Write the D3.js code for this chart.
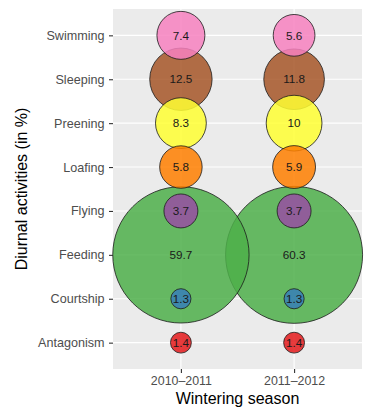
<!DOCTYPE html>
<html>
<head>
<meta charset="utf-8">
<script src="https://cdn.jsdelivr.net/npm/d3@7"></script>
<style>
  html, body { margin: 0; padding: 0; background: #ffffff; }
  svg { display: block; font-family: "Liberation Sans", Arial, sans-serif; }
</style>
</head>
<body>
<svg id="chart" width="377" height="412"></svg>
<script>
// ---- data ----
const categories = ["Antagonism", "Courtship", "Feeding", "Flying", "Loafing", "Preening", "Sleeping", "Swimming"];
const seasons = ["2010–2011", "2011–2012"];
const values2010 = [1.4, 1.3, 59.7, 3.7, 5.8, 8.3, 12.5, 7.4];
const values2011 = [1.4, 1.3, 60.3, 3.7, 5.9, 10, 11.8, 5.6];
const colors = ["#E41A1C", "#377EB8", "#4DAF4A", "#984EA3", "#FF7F00", "#FFFF33", "#A65628", "#F781BF"];
const xTitle = "Wintering season";
const yTitle = "Diurnal activities (in %)";

// ---- layout ----
const panel = { left: 113, right: 362, top: 9, bottom: 369 };
const svg = d3.select("#chart");

const x = d3.scalePoint().domain(seasons).range([panel.left, panel.right]).padding(0.6);
const y = d3.scalePoint().domain(categories).range([panel.bottom, panel.top]).padding(0.6);
const r = d3.scaleSqrt().domain([0, 60.3]).range([0, 68.5]);
const color = d3.scaleOrdinal().domain(categories).range(colors);

const seriesValues = [values2010, values2011];
const points = [];
seasons.forEach((s, si) => {
  categories.forEach((c, ci) => {
    points.push({ season: s, cat: c, value: seriesValues[si][ci] });
  });
});

// panel background
svg.append("rect")
  .attr("x", panel.left).attr("y", panel.top)
  .attr("width", panel.right - panel.left).attr("height", panel.bottom - panel.top)
  .attr("fill", "#EBEBEB");

// gridlines
svg.append("g").selectAll("line").data(categories).join("line")
  .attr("x1", panel.left).attr("x2", panel.right)
  .attr("y1", d => y(d)).attr("y2", d => y(d))
  .attr("stroke", "#ffffff").attr("stroke-width", 1.1);
svg.append("g").selectAll("line").data(seasons).join("line")
  .attr("y1", panel.top).attr("y2", panel.bottom)
  .attr("x1", d => x(d)).attr("x2", d => x(d))
  .attr("stroke", "#ffffff").attr("stroke-width", 1.1);

// bubbles (largest first)
const sorted = points.slice().sort((a, b) => b.value - a.value);

const g = svg.append("g");
g.selectAll("circle").data(sorted).join("circle")
  .attr("cx", d => x(d.season))
  .attr("cy", d => y(d.cat))
  .attr("r", d => r(d.value))
  .attr("fill", d => color(d.cat))
  .attr("fill-opacity", 0.85)
  .attr("stroke", "#1a1a1a")
  .attr("stroke-width", 0.8);

g.selectAll("text").data(points).join("text")
  .attr("x", d => x(d.season))
  .attr("y", d => y(d.cat))
  .attr("dy", "0.36em")
  .attr("text-anchor", "middle")
  .attr("font-size", 11.7)
  .attr("fill", "#1a1a1a")
  .text(d => String(d.value));

// axes
const yAxis = d3.axisLeft(y).tickSize(4).tickPadding(4.5);
const yg = svg.append("g").attr("transform", `translate(${panel.left},0)`).call(yAxis);
yg.select(".domain").remove();
yg.selectAll(".tick line").attr("stroke", "#333333").attr("stroke-width", 1.1);
yg.selectAll(".tick text").attr("fill", "#4D4D4D").attr("font-size", 12.6)
  .attr("font-family", "Liberation Sans, Arial, sans-serif");

const xAxis = d3.axisBottom(x).tickSize(4).tickPadding(3);
const xg = svg.append("g").attr("transform", `translate(0,${panel.bottom})`).call(xAxis);
xg.select(".domain").remove();
xg.selectAll(".tick line").attr("stroke", "#333333").attr("stroke-width", 1.1);
xg.selectAll(".tick text").attr("fill", "#4D4D4D").attr("font-size", 12.4)
  .attr("font-family", "Liberation Sans, Arial, sans-serif");

// titles
svg.append("text")
  .attr("x", (panel.left + panel.right) / 2).attr("y", 404)
  .attr("text-anchor", "middle").attr("font-size", 16).attr("fill", "#000")
  .text(xTitle);
svg.append("text")
  .attr("transform", `translate(27,${(panel.top + panel.bottom) / 2}) rotate(-90)`)
  .attr("text-anchor", "middle").attr("font-size", 16).attr("fill", "#000")
  .text(yTitle);
</script>
</body>
</html>
